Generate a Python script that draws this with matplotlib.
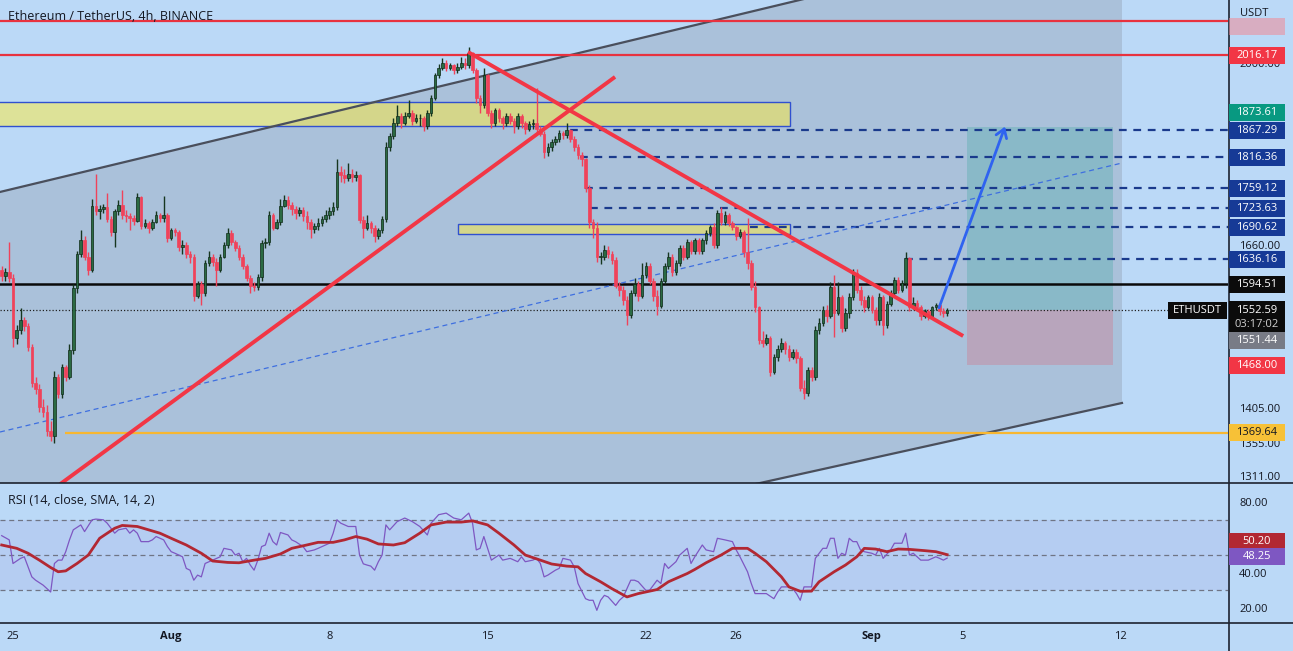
import numpy as np
import pandas as pd
import matplotlib
matplotlib.use('Agg')
import matplotlib.pyplot as plt
import matplotlib.dates as mdates
from matplotlib.patches import Rectangle, FancyArrowPatch
from matplotlib.ticker import NullLocator, FixedLocator

plt.rcParams['font.family'] = ['Open Sans', 'DejaVu Sans']

# ---------------- data ----------------
start_time = '2022-07-24 12:00'
first_open = 1618
closes = [
    1608, 1615, 1605,
    1510, 1522, 1537, 1528, 1496, 1442,
    1432, 1407, 1400, 1372, 1366, 1450,
    1425, 1465, 1451, 1491, 1588, 1645,
    1668, 1640, 1618, 1728, 1718, 1722,
    1725, 1705, 1683, 1718, 1730, 1712,
    1710, 1706, 1702, 1743, 1693, 1698,
    1690, 1700, 1712, 1706, 1712, 1672,
    1685, 1682, 1656, 1660, 1645, 1640,
    1575, 1595, 1580, 1630, 1640, 1631,
    1618, 1640, 1660, 1680, 1665, 1655,
    1640, 1625, 1605, 1592, 1590, 1607,
    1663, 1665, 1712, 1690, 1700, 1728,
    1738, 1730, 1722, 1715, 1720, 1710,
    1700, 1688, 1692, 1698, 1705, 1712,
    1718, 1725, 1788, 1783, 1778, 1786,
    1780, 1783, 1703, 1690, 1698, 1690,
    1675, 1685, 1705, 1835, 1855, 1880,
    1895, 1880, 1895, 1900, 1885, 1890,
    1890, 1875, 1900, 1930, 1975, 1990,
    2000, 1990, 1995, 1985, 1992, 2000,
    1995, 2020, 1985, 1930, 1915, 1975,
    1900, 1880, 1905, 1890, 1880, 1895,
    1885, 1875, 1895, 1880, 1870, 1878,
    1880, 1870, 1860, 1825, 1835, 1845,
    1850, 1862, 1858, 1868, 1850, 1835,
    1820, 1812, 1760, 1700, 1690, 1640,
    1640, 1652, 1645, 1635, 1592, 1585,
    1570, 1545, 1580, 1595, 1575, 1610,
    1625, 1600, 1575, 1560, 1600, 1625,
    1640, 1615, 1630, 1655, 1640, 1665,
    1650, 1668, 1650, 1668, 1680, 1691,
    1660, 1715, 1700, 1712, 1698, 1691,
    1675, 1682, 1648, 1630, 1591, 1558,
    1506, 1502, 1510, 1458, 1481, 1492,
    1502, 1492, 1481, 1488, 1479, 1434,
    1427, 1461, 1451, 1522, 1532, 1553,
    1543, 1591, 1548, 1574, 1525, 1548,
    1574, 1613, 1585, 1569, 1558, 1574,
    1553, 1537, 1574, 1530, 1563, 1580,
    1602, 1585, 1597, 1638, 1558, 1565,
    1558, 1543, 1551, 1543, 1558, 1561,
    1551, 1548, 1552.59]
highs = [
    1625, 1622, 1665,
    1612, 1530, 1556, 1542, 1533, 1500,
    1450, 1440, 1418, 1410, 1386, 1460,
    1455, 1470, 1468, 1500, 1595, 1650,
    1685, 1675, 1648, 1740, 1785, 1730,
    1732, 1750, 1710, 1722, 1738, 1757,
    1720, 1715, 1712, 1750, 1745, 1705,
    1702, 1705, 1718, 1715, 1745, 1715,
    1690, 1690, 1685, 1668, 1665, 1650,
    1645, 1600, 1600, 1635, 1650, 1645,
    1638, 1645, 1665, 1690, 1685, 1668,
    1660, 1645, 1628, 1610, 1598, 1612,
    1668, 1672, 1718, 1715, 1705, 1740,
    1748, 1745, 1735, 1728, 1726, 1725,
    1718, 1705, 1698, 1706, 1710, 1720,
    1725, 1735, 1813, 1800, 1795, 1805,
    1795, 1790, 1786, 1710, 1712, 1702,
    1695, 1690, 1710, 1845, 1862, 1890,
    1915, 1900, 1902, 1925, 1905, 1898,
    1898, 1895, 1905, 1935, 1980, 1998,
    2010, 2006, 2000, 1998, 2000, 2012,
    2010, 2032, 2022, 1990, 1935, 1990,
    1978, 1905, 1910, 1910, 1895, 1900,
    1900, 1890, 1900, 1898, 1885, 1885,
    1888, 1950, 1875, 1865, 1842, 1850,
    1856, 1868, 1866, 1880, 1870, 1855,
    1840, 1826, 1815, 1765, 1705, 1700,
    1648, 1660, 1658, 1650, 1640, 1598,
    1592, 1575, 1585, 1605, 1600, 1630,
    1632, 1630, 1605, 1585, 1605, 1630,
    1648, 1645, 1635, 1660, 1660, 1670,
    1668, 1672, 1672, 1672, 1685, 1695,
    1698, 1720, 1725, 1718, 1715, 1702,
    1693, 1688, 1685, 1707, 1635, 1600,
    1560, 1520, 1515, 1512, 1485, 1498,
    1510, 1505, 1498, 1492, 1492, 1482,
    1446, 1465, 1465, 1528, 1540, 1560,
    1562, 1598, 1610, 1598, 1578, 1556,
    1580, 1620, 1620, 1592, 1575, 1578,
    1578, 1558, 1580, 1578, 1568, 1585,
    1606, 1607, 1602, 1648, 1640, 1574,
    1569, 1562, 1555, 1555, 1560, 1564,
    1563, 1556, 1556]
lows = [
    1600, 1600, 1598,
    1495, 1500, 1515, 1520, 1490, 1436,
    1425, 1400, 1392, 1365, 1358, 1356,
    1420, 1420, 1445, 1448, 1485, 1580,
    1640, 1635, 1610, 1615, 1712, 1705,
    1715, 1700, 1675, 1656, 1712, 1705,
    1700, 1685, 1695, 1700, 1688, 1690,
    1680, 1686, 1698, 1700, 1700, 1665,
    1668, 1675, 1650, 1645, 1638, 1630,
    1568, 1572, 1562, 1576, 1625, 1625,
    1592, 1615, 1638, 1655, 1660, 1650,
    1635, 1620, 1600, 1581, 1583, 1585,
    1600, 1655, 1660, 1685, 1688, 1695,
    1725, 1722, 1712, 1705, 1710, 1702,
    1688, 1672, 1680, 1686, 1693, 1700,
    1705, 1712, 1720, 1770, 1768, 1772,
    1770, 1772, 1698, 1672, 1685, 1680,
    1665, 1670, 1680, 1700, 1828, 1850,
    1875, 1872, 1876, 1890, 1876, 1880,
    1875, 1865, 1870, 1895, 1925, 1970,
    1985, 1983, 1985, 1978, 1980, 1988,
    1988, 1990, 1980, 1920, 1900, 1910,
    1895, 1872, 1875, 1882, 1870, 1875,
    1878, 1862, 1870, 1872, 1860, 1866,
    1870, 1862, 1855, 1815, 1818, 1828,
    1838, 1845, 1850, 1852, 1845, 1828,
    1812, 1800, 1752, 1690, 1672, 1632,
    1628, 1635, 1638, 1628, 1588, 1575,
    1562, 1530, 1540, 1575, 1568, 1572,
    1605, 1595, 1568, 1545, 1556, 1595,
    1620, 1608, 1610, 1625, 1635, 1636,
    1645, 1645, 1645, 1645, 1662, 1675,
    1655, 1655, 1695, 1695, 1692, 1685,
    1668, 1672, 1640, 1620, 1585, 1550,
    1500, 1495, 1498, 1452, 1455, 1475,
    1488, 1485, 1475, 1478, 1472, 1430,
    1418, 1422, 1445, 1446, 1515, 1528,
    1535, 1540, 1511, 1545, 1518, 1520,
    1540, 1570, 1580, 1562, 1550, 1555,
    1548, 1530, 1530, 1514, 1525, 1560,
    1576, 1580, 1582, 1588, 1552, 1555,
    1552, 1538, 1540, 1538, 1540, 1553,
    1546, 1542, 1543]

# RSI (candle index k, value) ; k = 0 is 2022-07-25 00:00
rsi_k = [-3, -1, 0, 2, 3, 5, 6, 8, 10, 11, 12, 13, 14, 15, 16, 18, 19, 21, 22, 24, 25, 27, 28, 30, 31, 32, 33, 34,
         36, 37, 38, 40, 41, 42, 43, 45, 46, 47, 48, 49, 50, 51, 53, 55, 56, 58, 59, 60, 61, 62, 63, 64, 65, 66, 67,
         68, 69, 70, 71, 73, 74, 75, 77, 78, 80, 81, 83, 84, 85, 86, 87, 89, 91, 92, 93, 94, 95, 96, 97, 98, 99, 100,
         102, 104, 106, 108, 110, 111, 113, 115, 117, 119, 120, 121, 122, 123, 124, 125, 127, 129, 130, 132, 134, 135,
         136, 138, 139, 140, 141, 142, 144, 145, 146, 148, 149, 150, 152, 153, 154, 155, 156, 157, 158, 160, 161, 162,
         164, 165, 166, 168, 169, 171, 172, 173, 174, 176, 177, 179, 180, 181, 183, 184, 186, 187, 189, 191, 192, 193,
         195, 196, 197, 199, 200, 202, 203, 204, 206, 207, 208, 209, 210, 212, 213, 214, 215, 216, 217, 218, 219, 220,
         221, 222, 223, 224, 225, 226, 228, 229, 230, 231, 233, 234, 235, 236, 237, 238, 239, 241, 243, 245, 246, 247,
         248]
rsi_v = [61, 58.6, 45.2, 48.1, 49, 37.6, 35.7, 32.9, 29, 45.2, 47.1, 47.1, 51.9, 58.6, 64.3, 67.1, 63.3, 70, 70.4, 70,
         68.1, 62.4, 64.3, 65.2, 62.4, 64.3, 62.4, 57.6, 57.6, 58.6, 60.5, 58.6, 54.8, 51.9, 51, 49, 42.4, 41.4, 35.7,
         38.6, 37.6, 45.2, 47.1, 49, 53.8, 52.9, 50, 51, 46.2, 48.1, 44.3, 41.4, 47.1, 54.8, 55.7, 62.4, 57.6, 55.7,
         62.8, 61.4, 58.6, 57.6, 54.8, 51.9, 52.9, 53.8, 55.7, 56.7, 62.4, 70, 68.1, 66.2, 66.2, 50, 45, 44.3, 43.7,
         41.4, 46.2, 50, 67.1, 64.3, 69, 71, 69, 66.2, 61.4, 68.1, 72.9, 73.8, 71, 70, 71.9, 73.8, 68.1, 52.9, 53.8,
         60.5, 47.1, 50, 47.1, 48.1, 46.2, 49, 46.2, 47.1, 48.1, 45.2, 37.6, 38.6, 41.4, 42.4, 48.1, 47.1, 43.3, 33.8,
         25.2, 24.3, 24.3, 18.6, 24.3, 27.1, 26.2, 21.4, 24.3, 26.2, 35.7, 35.7, 34.8, 30, 30, 35.7, 33.8, 45.2, 42.4,
         46.2, 50, 53.8, 45.2, 49, 55.7, 52.9, 51.9, 59.5, 58.6, 57.6, 52.9, 49, 40.5, 33.8, 28.1, 28.1, 28.1, 25.2,
         29, 31.9, 31.9, 30.9, 28.1, 24.3, 31.9, 31.9, 48.1, 51, 53.8, 53.8, 59.5, 59.5, 48.1, 51, 50, 59.5, 57.6,
         57.6, 52.9, 51.9, 51, 50, 53.8, 48.1, 52.9, 56.7, 56.7, 56.7, 62.4, 50, 51, 47.1, 47.1, 49, 48.1, 47.1, 48.25]
sma_k = [-3, 1, 4, 7, 10, 12, 14, 17, 20, 23, 27, 29, 33, 36, 39, 42, 46, 50, 53, 57, 60, 64, 67, 71, 74, 78, 81, 85,
         88, 91, 94, 97, 101, 104, 108, 111, 115, 119, 122, 126, 129, 133, 136, 140, 143, 147, 150, 152, 156, 159, 163,
         166, 171, 174, 179, 181, 184, 188, 191, 195, 197, 200, 204, 206, 209, 212, 214, 218, 221, 224, 226, 229, 232,
         235, 238, 242, 245, 248]
sma_v = [55.7, 53.8, 51, 47.1, 42.9, 40.5, 41, 45.2, 50, 59.5, 65.2, 66.8, 66.2, 64.3, 62.4, 59.5, 55.7, 51, 46.6,
         45.8, 45.6, 47.1, 48.1, 50.6, 53.8, 55.7, 57.2, 57.2, 58.6, 60.5, 59, 56.3, 55.7, 57, 62.4, 67.1, 68.7, 68.7,
         69.4, 67.1, 62.4, 55.7, 50, 47.1, 44.9, 43.7, 43.3, 39.5, 34.8, 30.9, 26.2, 28.1, 30.4, 34.8, 39.5, 41.8,
         45.6, 50, 53.8, 53.8, 51, 46.2, 37.6, 31.9, 29.4, 29.5, 34.8, 40.5, 44.3, 49, 53.8, 53.4, 51.9, 53.4, 53.2,
         52.5, 51.9, 50.2]

# horizontal levels
red_levels = [2087.6, 2016.17]
support_level = 1594.51
bottom_level = 1369.64
target_levels = [1867.29, 1816.36, 1759.12, 1723.63, 1690.62, 1636.16]
target_starts = ['2022-08-18 16:00', '2022-08-19 02:00', '2022-08-19 07:30', '2022-08-19 12:45',
                 '2022-08-26 14:30', '2022-09-02 11:20']
last_price = 1552.59
entry_price = 1551.44
stop_price = 1468.00
tp_price = 1873.61

tick_dates = ['2022-07-25', '2022-08-01', '2022-08-08', '2022-08-15', '2022-08-22', '2022-08-26',
              '2022-09-01', '2022-09-05', '2022-09-12']
tick_labels = ['25', 'Aug', '8', '15', '22', '26', 'Sep', '5', '12']
price_ticks = [2000, 1660, 1405, 1355, 1311]
rsi_ticks = [80, 40, 20]

# ---------------- figure ----------------
W, H = 1293, 651
BG = '#bbd9f7'
fig = plt.figure(figsize=(W / 100, H / 100), dpi=100)
fig.patch.set_facecolor(BG)
ax = fig.add_axes([0, (H - 483) / H, 1228 / W, 483 / H])
axr = fig.add_axes([0, (H - 623) / H, 1228 / W, 140 / H], sharex=ax)
for a in (ax, axr):
    a.set_facecolor('none')
    for s in a.spines.values():
        s.set_visible(False)

times = pd.date_range(start_time, periods=len(closes), freq='4h')
tx = mdates.date2num(times.to_pydatetime())
t0 = mdates.date2num(pd.Timestamp('2022-07-25').to_pydatetime())
def D(s):
    return mdates.date2num(pd.Timestamp(s).to_pydatetime())

c = np.array(closes, float)
o = np.array([first_open] + closes[:-1], float)
h = np.maximum(np.array(highs, float), np.maximum(o, c))
l = np.minimum(np.array(lows, float), np.minimum(o, c))

ax.set_yscale('log')
ax.set_ylim(1301.3, 2132.9)
ax.set_xlim(t0 - 0.575, t0 + 53.76)
XR = t0 + 53.76
axr.set_ylim(11.4, 90.9)

# channel fill + lines
ch_x = [D('2022-07-24 10:12'), D('2022-09-12 01:40')]
ch_up = [1752.6, 2308.6]
ch_lo = [1095.8, 1412.3]
ax.fill_between(ch_x, ch_lo, ch_up, color='#787b86', alpha=0.25, lw=0, zorder=0.5)
ax.plot(ch_x, ch_up, color='#4a4f5c', lw=1.6, zorder=2)
ax.plot(ch_x, ch_lo, color='#4a4f5c', lw=1.6, zorder=2)

# yellow zones
zone_start = ['2022-07-23 00:00', '2022-08-13 16:30']
zone_end = ['2022-08-28 09:10', '2022-08-28 09:10']
zone_lo = [1875.0, 1678.9]
zone_hi = [1921.8, 1696.2]
for zs, ze, zl, zh in zip(zone_start, zone_end, zone_lo, zone_hi):
    ax.add_patch(Rectangle((D(zs), zl), D(ze) - D(zs), zh - zl, fc='#ffeb3b', alpha=0.5, ec='none', zorder=1))
    ax.add_patch(Rectangle((D(zs), zl), D(ze) - D(zs), zh - zl, fc='none', ec='#3050d0', lw=1, zorder=1.1))

# long position tool
px0, px1 = D('2022-09-05 05:00'), D('2022-09-11 16:00')
ax.add_patch(Rectangle((px0, last_price), px1 - px0, tp_price - last_price, fc='#089981', alpha=0.2, ec='none', zorder=1))
ax.add_patch(Rectangle((px0, stop_price), px1 - px0, last_price - stop_price, fc='#f23645', alpha=0.2, ec='none', zorder=1))

# horizontal lines
for lv in red_levels:
    ax.axhline(lv, color='#e8323f', lw=1.6, zorder=2)
ax.axhline(support_level, color='#0a0a0a', lw=1.8, zorder=2)
ax.hlines(bottom_level, D('2022-07-27 07:00'), XR, color='#f7b731', lw=1.6, zorder=2)
for lv, st in zip(target_levels, target_starts):
    ax.hlines(lv, D(st), XR, color='#1a3a8c', lw=1.6, linestyles=(0, (3.5, 3)), zorder=2)
ax.hlines(last_price, t0 - 0.575, D('2022-09-14 02:20'), color='#222222', lw=0.9, linestyles=(0, (1, 1.6)), zorder=2)

# thin dashed trend
ax.plot([D('2022-07-24 10:12'), D('2022-09-12 01:40')], [1371.0, 1805.3], color='#3e6fe0', lw=0.9,
        ls=(0, (4, 3)), zorder=2)

# candles
up = c >= o
col = np.where(up, '#2b6a43', '#f0425a')
ax.vlines(tx, l, h, colors=np.where(up, '#16361f', '#f0425a'), lw=1, zorder=3)
ax.bar(tx, np.maximum(np.abs(c - o), 1.0), bottom=np.minimum(o, c), width=0.115, color=col,
       edgecolor=np.where(up, '#0f2a18', '#f0425a'), linewidth=0.5, zorder=3.1)

# red trend lines
ax.plot([D('2022-07-27 01:50'), D('2022-08-20 15:20')], [1299.6, 1971.5], color='#f23645', lw=2.8, zorder=4,
        solid_capstyle='butt')
ax.plot([D('2022-08-14 03:10'), D('2022-09-05 01:00')], [2022.4, 1512.5], color='#f23645', lw=2.8, zorder=4,
        solid_capstyle='butt')

# blue arrow
ax.add_patch(FancyArrowPatch((D('2022-09-03 22:20'), 1552.6), (D('2022-09-06 22:30'), 1878.9),
                             arrowstyle='->,head_length=6,head_width=4', color='#2f63f0', lw=2, zorder=5))

# RSI
axr.axhspan(30, 70, color='#7e57c2', alpha=0.09, lw=0)
for lv in (70, 50, 30):
    axr.axhline(lv, color='#6f7585', lw=0.9, ls=(0, (4, 3)))
rk = np.array(rsi_k) + 3
sk = np.array(sma_k) + 3
axr.plot(tx[rk], rsi_v, color='#7e57c2', lw=0.9, zorder=3)
axr.plot(tx[sk], sma_v, color='#b22833', lw=2.0, zorder=4)

# ticks
ax.yaxis.tick_right()
ax.yaxis.set_major_locator(FixedLocator(price_ticks))
ax.yaxis.set_minor_locator(NullLocator())
ax.set_yticklabels(['%.2f' % v for v in price_ticks])
ax.tick_params(axis='y', length=0, pad=8, labelsize=8, labelcolor='#131722')
ax.tick_params(axis='x', length=0, labelbottom=False)
axr.yaxis.tick_right()
axr.set_yticks(rsi_ticks)
axr.set_yticklabels(['%.2f' % v for v in rsi_ticks])
axr.tick_params(axis='y', length=0, pad=8, labelsize=8, labelcolor='#131722')
axr.set_xticks([D(s) for s in tick_dates])
axr.set_xticklabels(tick_labels)
axr.tick_params(axis='x', length=0, pad=6, labelsize=8, labelcolor='#131722')
for lab in axr.get_xticklabels():
    if lab.get_text() in ('Aug', 'Sep'):
        lab.set_fontweight('bold')

# separators
fig.add_artist(plt.Line2D([0, 1], [(H - 483) / H] * 2, color='#1d2330', lw=1.2, transform=fig.transFigure))
fig.add_artist(plt.Line2D([0, 1], [(H - 623) / H] * 2, color='#1d2330', lw=1.2, transform=fig.transFigure))
fig.add_artist(plt.Line2D([1228.5 / W] * 2, [0, 1], color='#1d2330', lw=1.2, transform=fig.transFigure))

# titles
fig.text(8 / W, 1 - 16 / H, 'Ethereum / TetherUS, 4h, BINANCE', fontsize=9, va='center', color='#131722')
fig.text(8 / W, 1 - 500 / H, 'RSI (14, close, SMA, 14, 2)', fontsize=9, va='center', color='#131722')
fig.text(1240 / W, 1 - 13 / H, 'USDT', fontsize=8, va='center', color='#131722', zorder=7)

# price tags
def tag(axis, yval, fc, x0=1229, w=56, hgt=17, alpha=1.0):
    _, yp = axis.transData.transform((tx[0], yval))
    fig.add_artist(Rectangle((x0 / W, (yp - hgt / 2) / H), w / W, hgt / H, transform=fig.transFigure,
                             fc=fc, ec='none', alpha=alpha, zorder=5))
    return yp

tag(ax, 2075, '#f08a95', alpha=0.55)
specs = [(ax, 2016.17, '2016.17', '#f23645'), (ax, 1901, '1873.61', '#089981'),
         (ax, 1867.29, '1867.29', '#163a96'), (ax, 1816.36, '1816.36', '#163a96'),
         (ax, 1759.12, '1759.12', '#163a96'), (ax, 1723.63, '1723.63', '#163a96'),
         (ax, 1690.62, '1690.62', '#163a96'), (ax, 1636.16, '1636.16', '#163a96'),
         (ax, 1594.51, '1594.51', '#0b0b0b'), (ax, 1504.8, '1551.44', '#787b86'),
         (ax, 1468.0, '1468.00', '#f23645'), (ax, 1369.64, '1369.64', '#f7c137'),
         (axr, 57.7, '50.20', '#b22833'), (axr, 49.1, '48.25', '#7e57c2')]
for axis, yv, txt, fc in specs:
    yp = tag(axis, yv, fc)
    fig.text((1229 + 28) / W, yp / H, txt, ha='center', va='center', fontsize=8,
             color=('#131722' if fc == '#f7c137' else 'white'), zorder=6)

# last price two-line tag + symbol tag
_, yp = ax.transData.transform((tx[0], last_price))
fig.add_artist(Rectangle((1229 / W, (yp - 22) / H), 56 / W, 31 / H, transform=fig.transFigure, fc='#0b0b0b',
                         ec='none', zorder=5))
fig.text(1257 / W, yp / H, '1552.59', ha='center', va='center', fontsize=8, color='white', zorder=6)
fig.text(1257 / W, (yp - 14) / H, '03:17:02', ha='center', va='center', fontsize=8, color='#d0d0d0', zorder=6)
fig.add_artist(Rectangle((1168 / W, (yp - 8.5) / H), 59 / W, 17 / H, transform=fig.transFigure, fc='#0b0b0b',
                         ec='none', zorder=5))
fig.text(1197.5 / W, yp / H, 'ETHUSDT', ha='center', va='center', fontsize=8, color='white', zorder=6)

fig.savefig('out.png', dpi=100, facecolor=BG)
